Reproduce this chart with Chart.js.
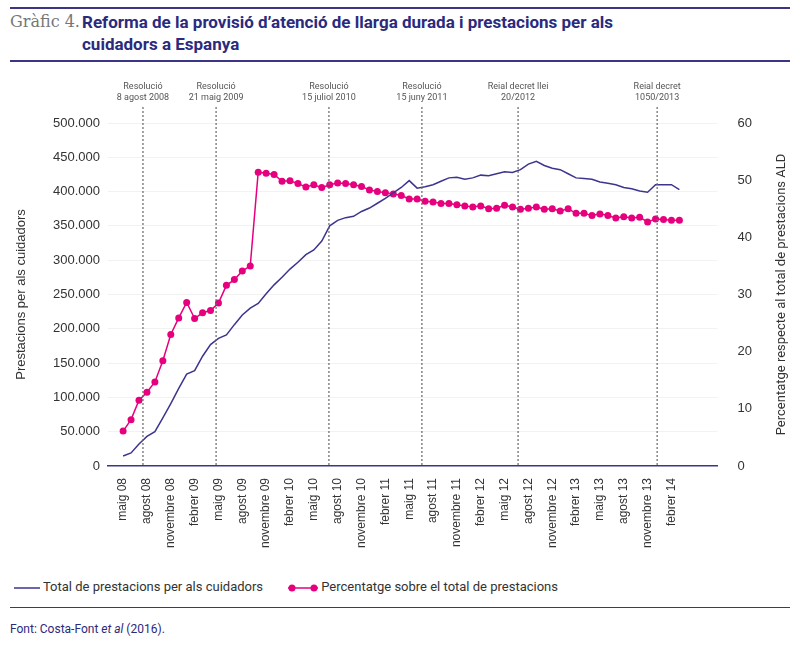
<!DOCTYPE html>
<html><head><meta charset="utf-8">
<script src="https://cdn.jsdelivr.net/npm/chart.js@4"></script>
<style>
body{margin:0;width:800px;height:650px;background:#fff;font-family:Roboto,Arial,sans-serif;position:relative;overflow:hidden}
.rule{position:absolute;left:10px;right:10px;height:2px;background:#3a3585}
#num{position:absolute;left:10px;top:12px;font-family:"DejaVu Serif",serif;font-size:16px;color:#777}
#title{position:absolute;left:82px;top:11px;width:610px;font-size:17px;font-weight:bold;color:#2b2a7d;line-height:22px}
#wrap{position:absolute;left:0;top:68px;width:800px;height:484px}
#legend{position:absolute;top:579px;left:14px;font-size:13px;color:#333}
#legend span{position:absolute;white-space:nowrap}
#font{position:absolute;left:10px;top:622px;font-size:12px;color:#2b2a7d}
</style></head><body>
<div class="rule" style="top:7px"></div>
<div id="num">Gràfic 4.</div>
<div id="title">Reforma de la provisió d’atenció de llarga durada i prestacions per als cuidadors a Espanya</div>
<div class="rule" style="top:60px"></div>
<div id="wrap"><canvas id="c"></canvas></div>
<div id="legend">
 <span style="left:0;top:0"><svg width="26" height="10" style="vertical-align:middle"><line x1="0" y1="5" x2="26" y2="5" stroke="#3b3590" stroke-width="1.5"/></svg> Total de prestacions per als cuidadors</span>
 <span style="left:274px;top:0"><svg width="30" height="10" style="vertical-align:middle"><line x1="0" y1="5" x2="30" y2="5" stroke="#e6007e" stroke-width="1.5"/><circle cx="4" cy="5" r="3.5" fill="#e6007e"/><circle cx="26" cy="5" r="3.5" fill="#e6007e"/></svg> Percentatge sobre el total de prestacions</span>
</div>
<div class="rule" style="top:607px;height:1px"></div>
<div id="font">Font: Costa-Font <i>et al</i> (2016).</div>
<script>
// tick labels, one every three months starting at maig 08 (month index 0)
const tickLabels = ['maig 08','agost 08','novembre 08','febrer 09','maig 09','agost 09','novembre 09','febrer 10','maig 10','agost 10','novembre 10','febrer 11','maig 11','agost 11','novembre 11','febrer 12','maig 12','agost 12','novembre 12','febrer 13','maig 13','agost 13','novembre 13','febrer 14'];

// monthly values, maig 2008 - març 2014
const totalCuidadors = [14600,19000,32000,43000,50000,70000,91000,113000,134000,139000,160000,177000,186000,191000,206000,220000,230000,237000,251000,264000,275000,287000,297000,308000,315000,328000,350000,358000,362000,364000,371000,376000,383000,390000,398000,406000,416000,405000,407000,410000,415000,420000,421000,418000,420000,424000,423000,426000,429000,428000,432000,440000,444000,438000,434000,432000,426000,420000,419000,418000,414000,412000,410000,406000,404000,401000,399000,410000,410000,410000,403000];
const percentatge = [6.1,8.1,11.5,12.9,14.7,18.4,23.0,25.9,28.6,25.8,26.8,27.2,28.5,31.6,32.6,34.1,35.0,51.4,51.2,51.0,49.8,49.9,49.4,48.8,49.2,48.7,49.2,49.5,49.4,49.2,48.9,48.3,48.0,47.8,47.6,47.3,46.7,46.7,46.3,46.2,45.9,45.9,45.7,45.5,45.3,45.5,45.0,45.1,45.6,45.3,44.9,45.1,45.3,44.9,45.0,44.6,45.0,44.2,44.2,43.8,44.1,43.8,43.4,43.6,43.4,43.5,42.7,43.2,43.1,43.0,43.0];

// reform events (month index) and their labels
const eventMonths = [2.5,11.7,25.9,37.6,49.7,67.2];
const eventLabels = [['Resolució','8 agost 2008'],['Resolució','21 maig 2009'],['Resolució','15 juliol 2010'],['Resolució','15 juny 2011'],['Reial decret llei','20/2012'],['Reial decret','1050/2013']];

const eventsPlugin = {
  id: 'events',
  afterDatasetsDraw(chart) {
    const c = chart.ctx, x = chart.scales.x, a = chart.chartArea;
    c.save();
    eventMonths.forEach((m, i) => {
      const px = x.getPixelForValue(m);
      c.strokeStyle = '#666'; c.lineWidth = 1.2; c.setLineDash([2, 2]);
      c.beginPath(); c.moveTo(px, a.top - 16); c.lineTo(px, a.bottom); c.stroke();
      c.setLineDash([]);
      c.fillStyle = '#555'; c.font = '9px Roboto'; c.textAlign = 'center';
      c.fillText(eventLabels[i][0], px, a.top - 34);
      c.fillText(eventLabels[i][1], px, a.top - 23);
    });
    // right axis title, reading bottom to top
    c.translate(chart.width - 18, (a.top + a.bottom) / 2);
    c.rotate(-Math.PI / 2);
    c.fillStyle = '#333'; c.font = '13px Roboto'; c.textAlign = 'center'; c.textBaseline = 'middle';
    c.fillText('Percentatge respecte al total de prestacions ALD', 0, 0);
    c.restore();
  }
};

const fmt = v => v.toLocaleString('de-DE');

new Chart(document.getElementById('c'), {
  type: 'line',
  data: {
    datasets: [{
      label: 'Total de prestacions per als cuidadors',
      data: totalCuidadors.map((v, i) => ({x: i, y: v})),
      borderColor: '#3b3590', borderWidth: 1.5, pointRadius: 0, yAxisID: 'y', tension: 0
    }, {
      label: 'Percentatge sobre el total de prestacions',
      data: percentatge.map((v, i) => ({x: i, y: v})),
      borderColor: '#e6007e', backgroundColor: '#e6007e', borderWidth: 1.5,
      pointRadius: 3.5, pointBorderWidth: 0, yAxisID: 'y1', tension: 0
    }]
  },
  options: {
    responsive: true, maintainAspectRatio: false, animation: false,
    layout: {padding: {top: 55, left: 10, right: 36}},
    plugins: {legend: {display: false}, tooltip: {enabled: false}},
    scales: {
      x: {
        type: 'linear', min: -1.9, max: 74.8,
        afterBuildTicks: ax => { ax.ticks = tickLabels.map((t, i) => ({value: i * 3})); },
        ticks: {autoSkip: false, maxRotation: 90, minRotation: 90, color: '#333', font: {size: 12}, padding: 4,
          callback: v => tickLabels[v / 3]},
        grid: {display: false, drawOnChartArea: false},
        border: {color: '#3b3590', width: 1.5}
      },
      y: {
        position: 'left', min: 0, max: 500000,
        afterFit: ax => { ax.width = 98; },
        ticks: {stepSize: 50000, color: '#333', font: {size: 13}, padding: 8, callback: fmt},
        grid: {color: '#f2f2f2', drawTicks: false},
        border: {display: false},
        title: {display: true, text: 'Prestacions per als cuidadors', color: '#333', font: {size: 13}}
      },
      y1: {
        position: 'right', min: 0, max: 60,
        ticks: {stepSize: 10, color: '#333', font: {size: 13}, padding: 12},
        grid: {display: false},
        border: {display: false}
      }
    }
  },
  plugins: [eventsPlugin]
});
</script>
</body></html>
